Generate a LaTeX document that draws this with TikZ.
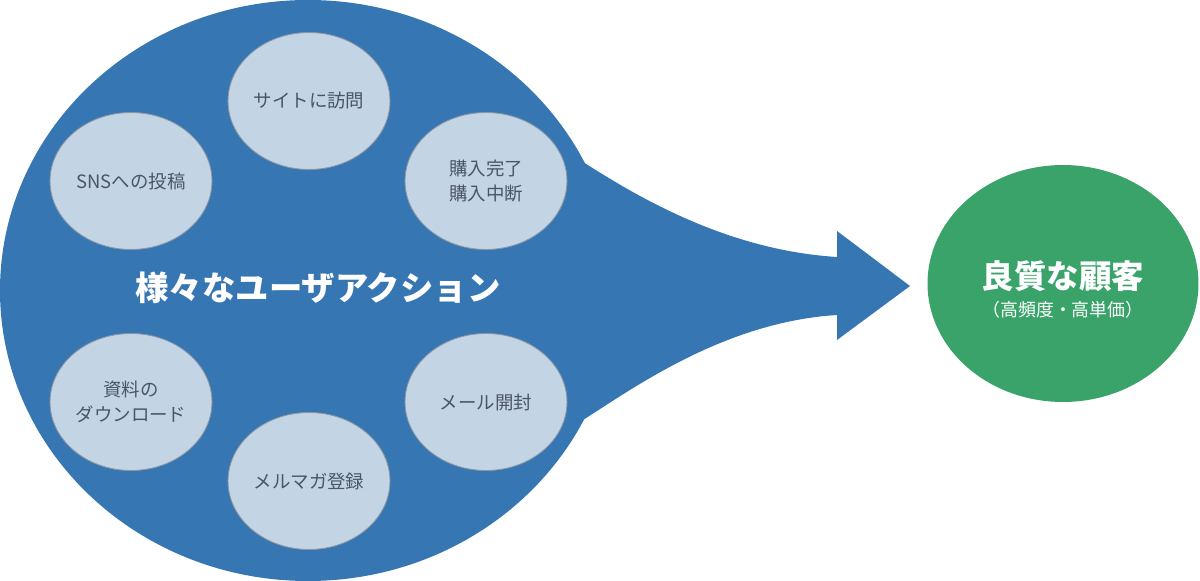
\documentclass[tikz,border=0pt]{standalone}
\usepackage{fontspec}
\setmainfont{Noto Sans CJK JP}
\usepackage{tikz}
\usetikzlibrary{shapes.geometric}

\definecolor{actblue}{RGB}{53,118,179}
\definecolor{actlight}{RGB}{195,213,228}
\definecolor{actedge}{RGB}{140,150,162}
\definecolor{acttext}{RGB}{74,86,104}
\definecolor{goodgreen}{RGB}{57,163,106}

\begin{document}
\begin{tikzpicture}[x=0.02cm, y=-0.02cm,
    action/.style={ellipse, fill=actlight, draw=actedge, line width=0.5pt,
      minimum width=3.24cm, minimum height=2.74cm, inner sep=0pt,
      align=center, text=acttext, font=\fontsize{10.5}{14}\selectfont}]
  \useasboundingbox (0,0) rectangle (1200,581);

  % Big blob of user actions
  \fill[actblue] (308,290.5) ellipse [x radius=308, y radius=290.5];
  \coordinate (jtop) at (583,162);
  \coordinate (jbot) at (583,420);
  \coordinate (tip) at (910,286);
  \fill[actblue] (jtop) .. controls (635,195) and (725,250) .. (837,257)
    -- (837,231) -- (tip) -- (837,340) -- (837,315)
    .. controls (725,322) and (635,387) .. (jbot) -- (560,291) -- cycle;

  % Single actions
  \node[action] (visit) at (309,101) {サイトに訪問};
  \node[action] (sns) at (131,181) {SNSへの投稿};
  \node[action] (buy) at (486,181) {購入完了\\購入中断};
  \node[action] (docs) at (131,402) {資料の\\ダウンロード};
  \node[action] (mail) at (486,402) {メール開封};
  \node[action] (magazine) at (309,481) {メルマガ登録};

  \node[white, font=\bfseries\fontsize{19}{22}\selectfont] (various) at (318,288)
    {様々なユーザアクション};

  % Result
  \node[ellipse, fill=goodgreen, minimum width=5.42cm, minimum height=4.74cm,
    inner sep=0pt] (good) at (1063,283.5) {};
  \node[white, font=\bfseries\fontsize{18.5}{22}\selectfont] (goodtitle) at (1063,276)
    {良質な顧客};
  \node[white, font=\fontsize{10.2}{12}\selectfont] (goodsub) at (1063,310)
    {（高頻度・高単価）};
\end{tikzpicture}
\end{document}
